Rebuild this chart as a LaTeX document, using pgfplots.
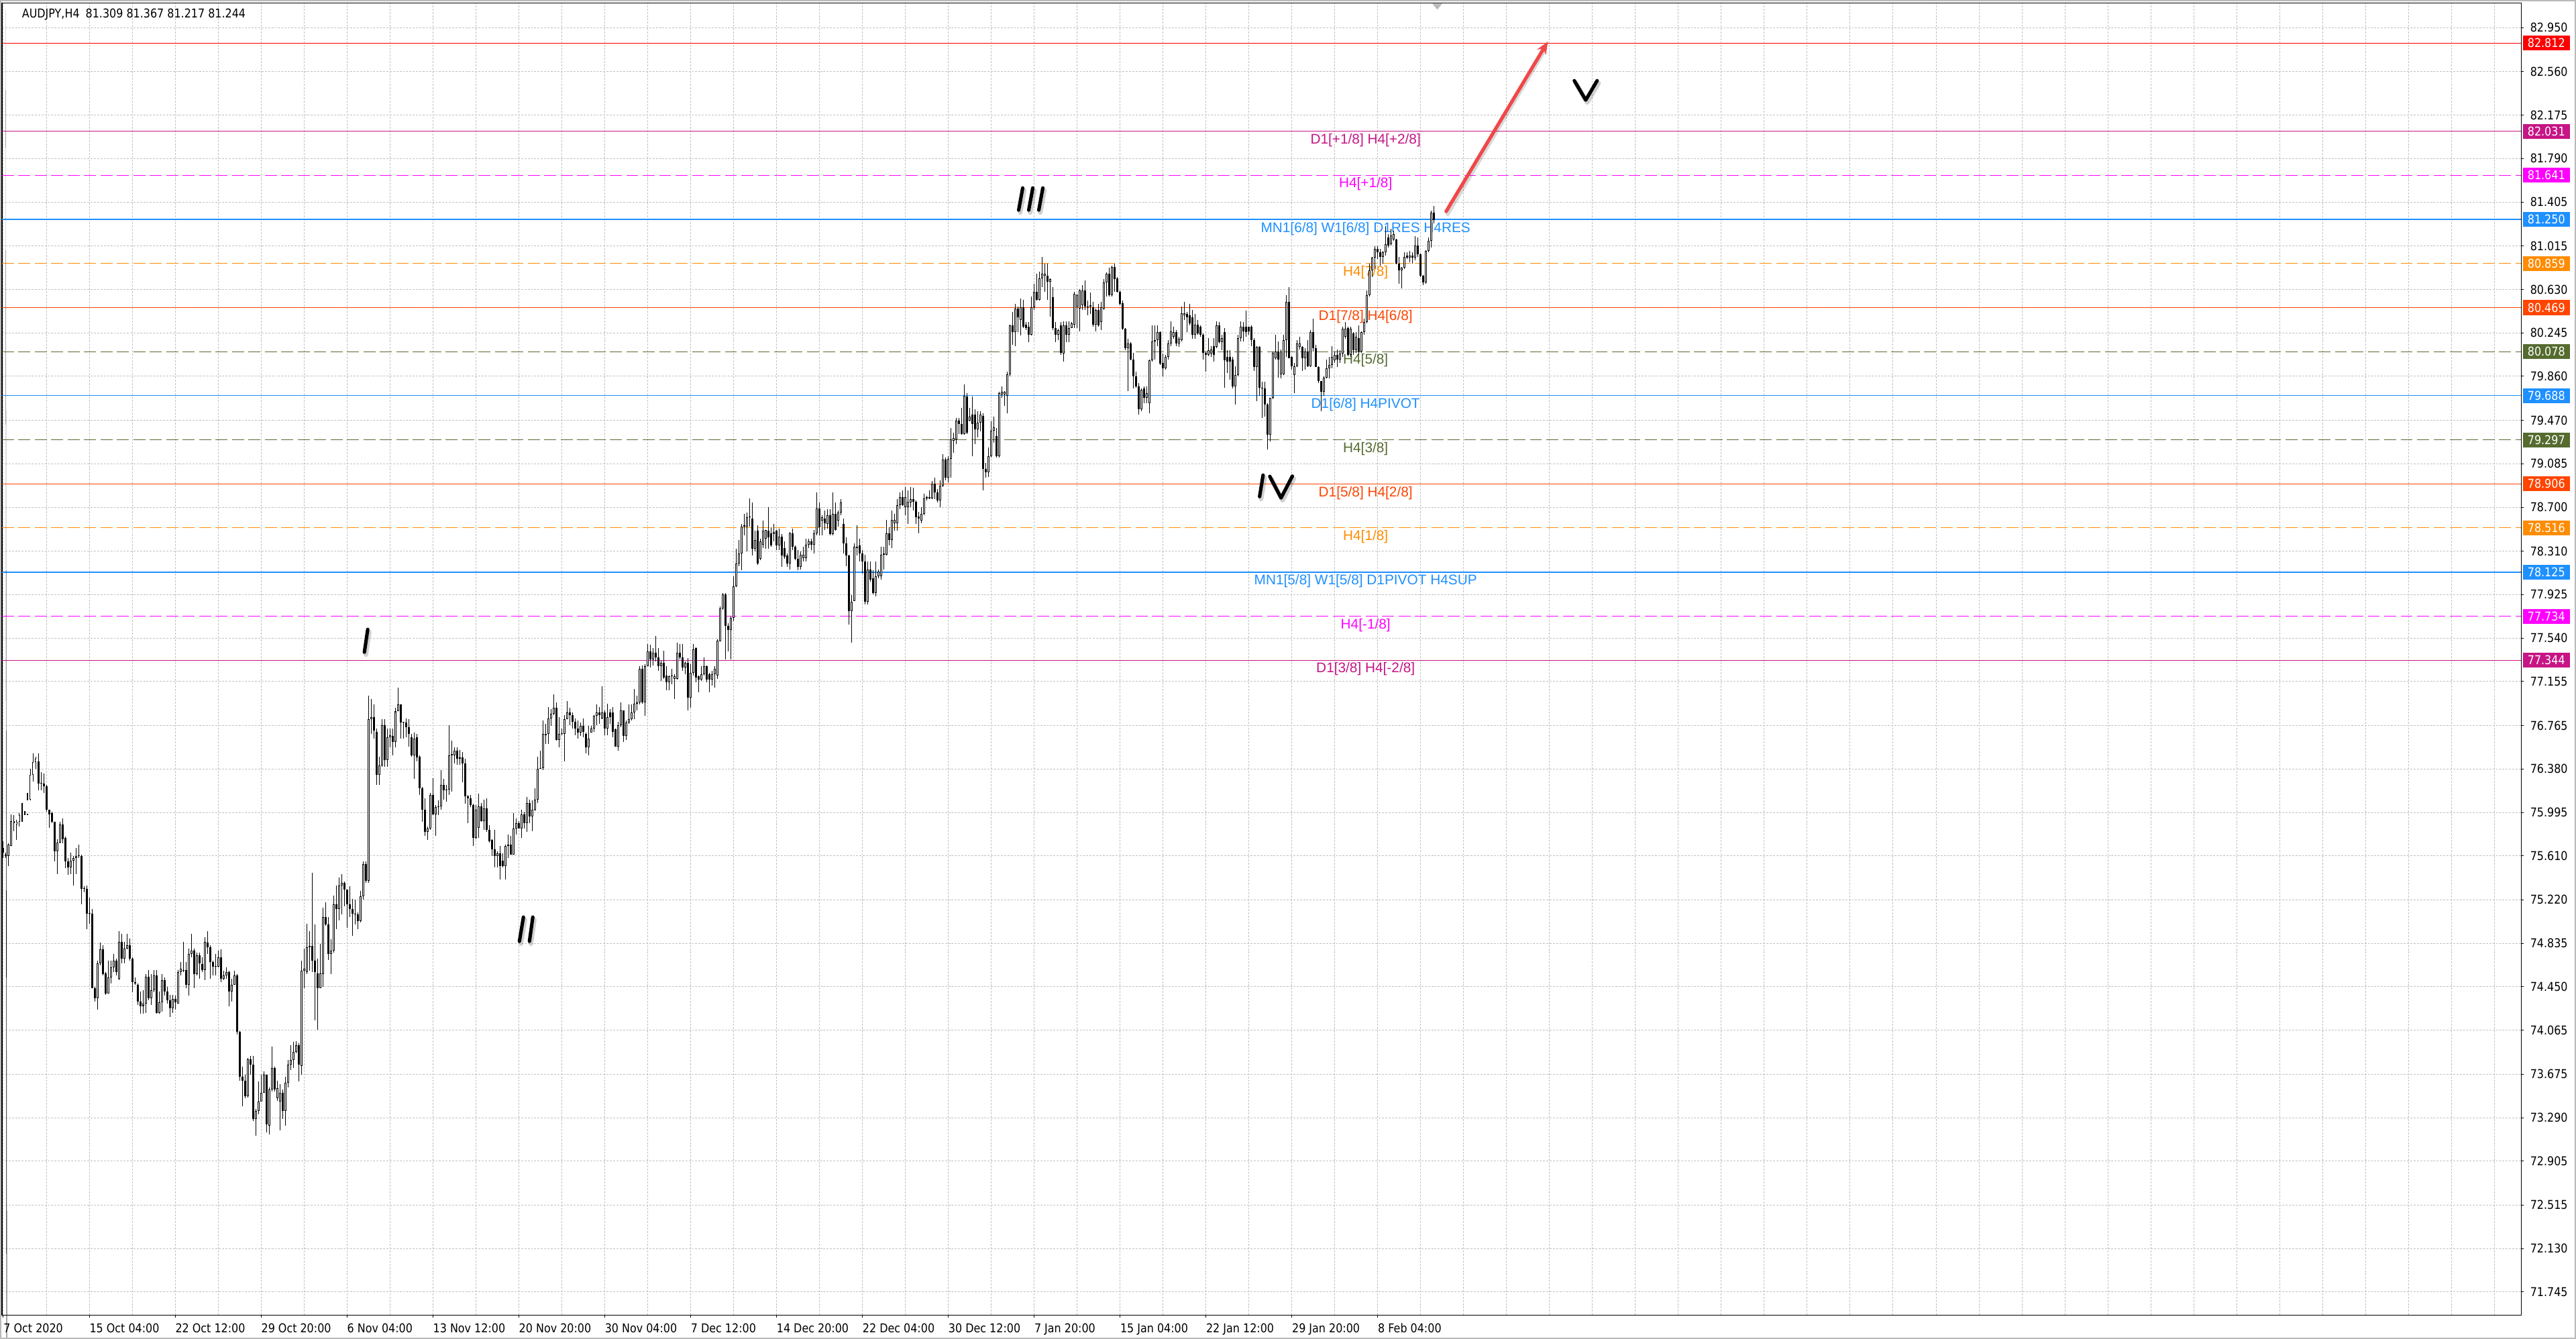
\documentclass[border=0pt]{standalone}
\usepackage{pgfplots}
\pgfplotsset{compat=1.18}
\usepackage{pgfplotstable}
\usepackage{graphicx}
\usepackage{fontspec}
\setmainfont{Liberation Sans}
\newfontfamily\tahomaf[FakeStretch=0.88]{DejaVu Sans}
\newfontfamily\djv{DejaVu Sans}
\newfontfamily\arialf{Liberation Sans}
\usetikzlibrary{arrows.meta}
\definecolor{mvr}{HTML}{C71585}
\definecolor{dodger}{HTML}{1E90FF}
\definecolor{dorange}{HTML}{FF8C00}
\definecolor{ored}{HTML}{FF4500}
\definecolor{dolive}{HTML}{556B2F}
\definecolor{magX}{HTML}{FF00FF}
\definecolor{redX}{HTML}{FF0000}
\definecolor{gridc}{HTML}{C0C0C0}
\definecolor{arrowred}{HTML}{F04848}
\newcommand\tickf{\tahomaf\fontsize{7.4bp}{8bp}\selectfont}
\newcommand\levf{\arialf\fontsize{8.5bp}{9bp}\selectfont}
\tikzset{wave/.style={line width=2.1bp, line cap=round, line join=round, black},
         wsh/.style={line width=2.8bp, line cap=round, line join=round, black, opacity=0.18},
         pbox/.style={anchor=west, text=white, font=\tickf, inner xsep=0pt, inner ysep=0pt, minimum height=9bp, minimum width=28.6bp, xshift=0.8bp}}

\pgfplotstableread{
o h l c
75.68 75.74 75.59 75.64
75.62 75.64 75.59 75.61
75.61 75.72 75.52 75.71
75.70 75.98 75.70 75.92
75.92 75.97 75.83 75.90
75.89 75.93 75.75 75.91
75.91 75.99 75.87 75.97
75.97 76.08 75.91 75.98
75.98 76.01 75.97 75.98
75.98 76.17 75.97 76.11
76.11 76.38 76.10 76.33
76.33 76.52 76.27 76.44
76.44 76.49 76.38 76.47
76.45 76.52 76.19 76.25
76.25 76.35 76.19 76.25
76.25 76.34 76.17 76.23
76.23 76.24 76.00 76.02
76.02 76.02 75.86 75.98
75.99 76.00 75.90 75.91
75.91 75.91 75.56 75.65
75.65 75.76 75.45 75.73
75.73 75.91 75.72 75.89
75.89 75.94 75.72 75.76
75.77 75.78 75.50 75.56
75.56 75.59 75.44 75.51
75.51 75.64 75.45 75.57
75.57 75.61 75.35 75.59
75.59 75.68 75.45 75.61
75.61 75.71 75.59 75.61
75.61 75.62 75.18 75.32
75.32 75.34 75.29 75.32
75.32 75.35 74.96 75.10
75.10 75.24 75.01 75.10
75.10 75.14 74.44 74.44
74.44 74.45 74.32 74.35
74.35 74.68 74.25 74.66
74.66 74.84 74.64 74.78
74.78 74.82 74.55 74.56
74.57 74.58 74.38 74.39
74.39 74.68 74.39 74.53
74.53 74.68 74.48 74.62
74.62 74.74 74.58 74.68
74.68 74.70 74.55 74.58
74.52 74.94 74.51 74.85
74.85 74.92 74.66 74.70
74.70 74.85 74.66 74.79
74.79 74.92 74.78 74.82
74.82 74.88 74.68 74.70
74.70 74.71 74.40 74.49
74.49 74.53 74.47 74.48
74.47 74.48 74.29 74.32
74.32 74.41 74.21 74.28
74.28 74.42 74.21 74.30
74.30 74.56 74.22 74.54
74.54 74.60 74.33 74.35
74.35 74.56 74.29 74.42
74.42 74.60 74.40 74.55
74.55 74.60 74.21 74.22
74.22 74.41 74.21 74.31
74.31 74.56 74.23 74.51
74.51 74.53 74.37 74.41
74.41 74.45 74.30 74.33
74.33 74.38 74.18 74.26
74.26 74.38 74.22 74.34
74.34 74.37 74.25 74.31
74.30 74.60 74.30 74.58
74.58 74.67 74.55 74.61
74.59 74.85 74.58 74.60
74.60 74.67 74.44 74.47
74.47 74.79 74.37 74.74
74.74 74.92 74.71 74.77
74.77 74.79 74.44 74.56
74.56 74.75 74.55 74.73
74.73 74.75 74.52 74.66
74.65 74.71 74.58 74.60
74.60 74.89 74.51 74.85
74.84 74.94 74.74 74.80
74.80 74.82 74.52 74.67
74.67 74.68 74.55 74.63
74.63 74.74 74.55 74.63
74.63 74.77 74.62 74.71
74.71 74.78 74.49 74.52
74.52 74.59 74.51 74.55
74.55 74.62 74.52 74.58
74.58 74.59 74.28 74.41
74.41 74.52 74.32 74.47
74.47 74.59 74.47 74.55
74.55 74.56 74.03 74.05
74.05 74.06 73.62 73.65
73.65 73.74 73.39 73.62
73.62 73.67 73.46 73.48
73.48 73.82 73.47 73.81
73.81 73.84 73.67 73.76
73.76 73.84 73.26 73.28
73.28 73.37 73.13 73.35
73.35 73.61 73.32 73.43
73.43 73.67 73.43 73.51
73.51 73.70 73.51 73.67
73.67 73.67 73.16 73.23
73.22 73.56 73.14 73.54
73.54 73.92 73.52 73.73
73.73 73.74 73.52 73.54
73.46 73.62 73.44 73.55
73.43 73.59 73.18 73.51
73.51 73.54 73.28 73.35
73.35 73.65 73.22 73.60
73.60 73.80 73.56 73.76
73.76 73.93 73.71 73.80
73.80 73.96 73.73 73.87
73.87 73.97 73.86 73.93
73.93 73.95 73.61 73.76
73.75 74.68 73.67 74.59
74.59 74.79 74.44 74.61
74.58 75.01 74.56 74.80
74.80 74.94 74.59 74.81
74.81 75.46 74.58 74.68
74.68 75.00 74.15 74.58
74.57 74.70 74.07 74.44
74.44 74.83 74.44 74.57
74.56 75.15 74.45 75.07
75.07 75.20 74.99 75.00
75.00 75.07 74.69 74.74
74.74 74.87 74.56 74.77
74.77 75.26 74.75 75.18
75.18 75.35 74.96 75.14
75.14 75.42 75.04 75.35
75.35 75.45 75.09 75.37
75.37 75.38 75.16 75.31
75.31 75.31 74.97 75.18
75.18 75.34 75.07 75.14
75.14 75.23 74.90 75.10
75.10 75.22 75.00 75.09
75.09 75.11 74.96 75.03
75.03 75.30 75.02 75.25
75.25 75.56 75.22 75.54
75.54 75.56 75.37 75.39
75.39 77.03 75.37 76.82
76.82 77.00 76.69 76.84
76.84 76.95 76.65 76.72
76.71 76.74 76.24 76.33
76.33 76.49 76.24 76.41
76.41 76.82 76.40 76.77
76.77 76.82 76.40 76.46
76.46 76.74 76.40 76.66
76.66 76.74 76.57 76.68
76.67 76.74 76.50 76.62
76.62 76.92 76.57 76.89
76.89 77.10 76.89 76.95
76.95 76.95 76.65 76.79
76.79 76.80 76.65 76.79
76.79 76.83 76.66 76.75
76.75 76.82 76.58 76.69
76.66 76.69 76.49 76.50
76.50 76.70 76.29 76.65
76.66 76.69 76.45 76.48
76.49 76.50 76.15 76.21
76.21 76.22 75.91 76.02
76.02 76.12 75.79 75.82
75.82 75.87 75.75 75.85
75.85 76.17 75.84 76.15
76.15 76.30 75.97 75.98
75.98 76.06 75.79 76.04
76.04 76.10 75.97 76.05
76.05 76.37 76.02 76.24
76.24 76.29 76.11 76.19
76.19 76.24 76.09 76.20
76.20 76.77 76.15 76.50
76.50 76.63 76.18 76.51
76.50 76.57 76.43 76.54
76.54 76.57 76.42 76.47
76.47 76.55 76.42 76.48
76.48 76.53 76.26 76.43
76.43 76.47 76.07 76.14
76.14 76.15 75.90 76.12
76.12 76.15 76.04 76.06
76.06 76.07 75.70 75.77
75.77 76.06 75.76 76.02
75.86 76.16 75.77 76.05
76.05 76.08 75.91 75.92
75.92 76.11 75.84 76.03
76.03 76.12 75.82 75.84
75.84 75.88 75.73 75.74
75.75 75.76 75.61 75.67
75.67 75.84 75.51 75.61
75.61 75.65 75.51 75.63
75.63 75.70 75.40 75.52
75.57 75.63 75.51 75.52
75.52 75.71 75.40 75.70
75.70 75.80 75.59 75.71
75.71 75.79 75.62 75.62
75.62 75.99 75.62 75.85
75.85 75.94 75.80 75.90
75.90 75.92 75.85 75.85
75.85 76.02 75.77 75.98
75.98 76.00 75.85 75.90
75.90 76.13 75.82 76.08
76.08 76.11 75.90 75.96
75.96 76.10 75.83 76.02
76.02 76.21 76.01 76.11
76.11 76.49 76.08 76.38
76.38 76.54 76.38 76.39
76.39 76.81 76.37 76.69
76.68 76.78 76.60 76.69
76.69 76.93 76.60 76.83
76.83 76.91 76.76 76.87
76.87 77.04 76.86 76.92
76.92 76.97 76.63 76.64
76.64 76.84 76.57 76.69
76.69 76.74 76.68 76.69
76.69 76.86 76.45 76.82
76.82 76.98 76.82 76.88
76.88 76.92 76.77 76.86
76.86 76.88 76.74 76.80
76.80 76.83 76.68 76.74
76.74 76.81 76.65 76.70
76.70 76.79 76.67 76.76
76.76 76.83 76.66 76.71
76.69 76.70 76.52 76.57
76.57 76.76 76.50 76.65
76.70 76.76 76.70 76.74
76.74 76.86 76.71 76.85
76.85 76.95 76.77 76.88
76.88 76.93 76.78 76.86
76.83 77.11 76.82 76.88
76.88 76.90 76.68 76.74
76.74 76.96 76.68 76.84
76.88 76.91 76.78 76.84
76.88 76.93 76.66 76.71
76.73 76.74 76.58 76.58
76.58 76.80 76.54 76.77
76.77 76.97 76.75 76.90
76.90 76.90 76.62 76.67
76.67 76.81 76.64 76.79
76.79 76.95 76.78 76.82
76.82 76.95 76.81 76.88
76.88 77.09 76.82 76.96
76.96 77.03 76.90 76.97
76.97 77.29 76.95 77.27
77.27 77.30 76.96 76.97
76.97 77.31 76.85 77.29
77.29 77.49 77.29 77.42
77.42 77.48 77.28 77.35
77.35 77.45 77.30 77.41
77.41 77.56 77.33 77.37
77.37 77.45 77.25 77.29
77.29 77.34 77.16 77.32
77.32 77.43 77.18 77.19
77.21 77.29 77.08 77.15
77.15 77.21 77.08 77.20
77.20 77.27 77.13 77.21
77.18 77.22 77.00 77.20
77.18 77.50 77.17 77.41
77.41 77.49 77.35 77.37
77.37 77.49 77.25 77.28
77.28 77.33 77.22 77.32
77.32 77.36 76.90 77.01
77.01 77.31 76.92 77.23
77.23 77.49 77.21 77.44
77.45 77.46 77.15 77.19
77.20 77.21 77.06 77.17
77.17 77.29 77.16 77.22
77.22 77.37 77.21 77.29
77.29 77.30 77.15 77.17
77.22 77.23 77.06 77.17
77.17 77.25 77.12 77.22
77.22 77.29 77.10 77.27
77.21 77.53 77.18 77.52
77.51 77.82 77.51 77.80
77.80 77.94 77.79 77.93
77.93 77.94 77.35 77.65
77.65 77.67 77.42 77.61
77.61 77.73 77.35 77.72
77.72 78.09 77.69 78.00
78.00 78.33 77.99 78.20
78.20 78.41 78.18 78.29
78.29 78.55 78.14 78.53
78.53 78.64 78.45 78.54
78.53 78.65 78.31 78.61
78.61 78.78 78.53 78.62
78.60 78.74 78.27 78.33
78.33 78.49 78.31 78.41
78.49 78.54 78.19 78.20
78.24 78.42 78.23 78.40
78.37 78.58 78.34 78.49
78.42 78.50 78.33 78.50
78.49 78.70 78.33 78.43
78.47 78.52 78.35 78.36
78.46 78.55 78.40 78.48
78.49 78.50 78.32 78.36
78.36 78.51 78.32 78.44
78.44 78.46 78.17 78.27
78.34 78.40 78.24 78.26
78.27 78.29 78.17 78.20
78.20 78.48 78.15 78.47
78.47 78.51 78.32 78.35
78.35 78.36 78.23 78.24
78.24 78.32 78.14 78.17
78.17 78.31 78.15 78.28
78.25 78.35 78.22 78.28
78.25 78.42 78.22 78.37
78.37 78.42 78.34 78.40
78.40 78.42 78.32 78.37
78.37 78.50 78.29 78.47
78.47 78.83 78.45 78.69
78.69 78.74 78.45 78.52
78.58 78.63 78.45 78.61
78.60 78.67 78.50 78.56
78.55 78.68 78.51 78.63
78.63 78.68 78.45 78.46
78.46 78.83 78.45 78.64
78.64 78.74 78.49 78.50
78.58 78.67 78.53 78.65
78.65 78.77 78.63 78.74
78.55 78.60 78.29 78.38
78.38 78.43 78.18 78.27
78.27 78.28 77.66 77.78
77.78 77.92 77.50 77.86
77.87 78.38 77.87 78.35
78.34 78.54 78.27 78.35
78.36 78.42 78.22 78.29
78.29 78.32 78.11 78.22
78.22 78.28 77.84 77.86
77.86 78.22 77.84 78.15
78.15 78.22 78.04 78.06
78.07 78.14 77.93 77.94
77.94 78.22 77.91 78.09
78.09 78.15 78.07 78.13
78.09 78.35 78.06 78.28
78.28 78.35 78.15 78.29
78.28 78.59 78.27 78.47
78.47 78.52 78.36 78.41
78.41 78.67 78.34 78.59
78.56 78.64 78.49 78.59
78.56 78.77 78.49 78.72
78.72 78.83 78.68 78.79
78.79 78.85 78.71 78.72
78.70 78.88 78.63 78.79
78.70 78.85 78.55 78.75
78.74 78.88 78.70 78.77
78.77 78.87 78.67 78.75
78.75 78.76 78.55 78.61
78.62 78.66 78.47 78.60
78.58 78.70 78.56 78.64
78.64 78.82 78.63 78.78
78.78 78.80 78.76 78.79
78.78 78.85 78.77 78.79
78.78 78.93 78.77 78.91
78.91 78.96 78.77 78.83
78.83 78.86 78.74 78.76
78.76 78.94 78.70 78.89
78.89 79.17 78.88 79.12
79.12 79.14 78.94 78.96
78.96 79.15 78.92 79.13
79.13 79.40 78.96 79.30
79.29 79.36 79.18 79.31
79.30 79.49 79.26 79.47
79.47 79.49 79.35 79.44
79.44 79.58 79.34 79.35
79.35 79.79 79.34 79.69
79.68 79.71 79.35 79.36
79.47 79.58 79.46 79.50
79.52 79.68 79.15 79.44
79.52 79.57 79.26 79.39
79.39 79.55 79.32 79.45
79.45 79.55 79.37 79.52
79.51 79.53 78.85 79.04
79.04 79.09 78.96 79.01
79.01 79.23 78.97 79.15
79.15 79.46 79.14 79.38
79.38 79.50 79.27 79.41
79.33 79.40 79.14 79.15
79.15 79.72 79.14 79.71
79.70 79.77 79.67 79.72
79.70 79.73 79.60 79.72
79.69 79.90 79.53 79.88
79.88 80.32 79.86 80.31
80.31 80.43 80.14 80.25
80.25 80.50 80.13 80.46
80.46 80.48 80.25 80.38
80.36 80.55 80.22 80.47
80.47 80.54 80.29 80.30
80.32 80.34 80.27 80.29
80.30 80.34 80.16 80.23
80.23 80.57 80.22 80.47
80.47 80.68 80.45 80.61
80.61 80.77 80.53 80.54
80.54 80.79 80.53 80.73
80.73 80.92 80.65 80.77
80.75 80.86 80.61 80.77
80.75 80.86 80.54 80.70
80.70 80.73 80.39 80.72
80.56 80.65 80.27 80.29
80.29 80.34 80.16 80.23
80.23 80.28 80.18 80.27
80.31 80.34 80.05 80.07
80.06 80.35 79.99 80.31
80.31 80.35 80.16 80.23
80.23 80.35 80.16 80.29
80.29 80.34 80.29 80.33
80.32 80.61 80.29 80.59
80.48 80.59 80.29 80.58
80.46 80.63 80.26 80.62
80.49 80.67 80.45 80.62
80.62 80.71 80.45 80.48
80.48 80.53 80.40 80.47
80.49 80.60 80.41 80.48
80.47 80.52 80.30 80.32
80.32 80.46 80.26 80.45
80.45 80.50 80.30 80.31
80.34 80.52 80.27 80.47
80.46 80.72 80.45 80.69
80.69 80.78 80.57 80.77
80.77 80.82 80.57 80.58
80.58 80.84 80.57 80.83
80.83 80.86 80.61 80.72
80.73 80.74 80.60 80.61
80.61 80.62 80.49 80.50
80.51 80.53 80.27 80.28
80.28 80.29 80.09 80.11
80.11 80.19 79.73 80.15
80.15 80.16 80.00 80.01
80.01 80.07 79.75 79.86
79.86 79.90 79.76 79.77
79.77 79.80 79.52 79.57
79.57 79.75 79.55 79.74
79.75 79.77 79.62 79.67
79.67 79.77 79.62 79.71
79.62 80.01 79.53 80.00
80.00 80.31 79.99 80.17
80.17 80.31 80.01 80.18
80.18 80.31 80.13 80.25
80.25 80.26 79.96 79.97
79.98 80.06 79.86 79.93
79.93 80.05 79.92 80.03
80.03 80.18 80.01 80.15
80.15 80.35 80.13 80.26
80.21 80.30 80.19 80.25
80.25 80.27 80.13 80.15
80.15 80.21 80.12 80.19
80.18 80.48 80.17 80.42
80.40 80.52 80.36 80.42
80.41 80.43 80.25 80.38
80.40 80.50 80.31 80.33
80.38 80.45 80.19 80.23
80.23 80.41 80.19 80.32
80.32 80.36 80.23 80.24
80.30 80.31 80.21 80.23
80.23 80.24 80.01 80.07
80.07 80.08 79.90 80.05
80.05 80.20 80.04 80.09
80.06 80.13 80.03 80.10
80.13 80.20 79.99 80.05
80.12 80.35 80.11 80.31
80.31 80.34 80.15 80.16
80.16 80.23 80.09 80.20
80.25 80.29 79.76 80.00
80.03 80.09 79.89 79.99
80.03 80.09 79.83 79.99
80.01 80.03 79.75 79.77
79.77 79.95 79.61 79.87
79.87 80.23 79.86 80.20
80.20 80.35 80.17 80.30
80.30 80.34 80.17 80.26
80.30 80.44 80.21 80.25
80.30 80.30 80.23 80.26
80.30 80.31 80.13 80.18
80.18 80.20 79.91 79.94
79.94 80.13 79.64 80.12
80.12 80.13 79.69 79.76
79.76 79.81 79.49 79.75
79.75 79.81 79.50 79.61
79.61 79.62 79.21 79.34
79.34 79.67 79.28 79.67
79.67 80.08 79.66 80.07
80.02 80.23 80.01 80.08
80.08 80.17 79.85 80.01
79.88 80.10 79.84 80.08
79.88 80.23 79.87 80.18
80.18 80.58 80.03 80.52
80.52 80.65 80.02 80.02
80.03 80.04 79.92 79.95
79.87 79.98 79.71 79.95
79.95 80.18 79.94 80.15
80.12 80.21 80.10 80.15
80.12 80.13 79.91 80.02
80.02 80.11 79.92 80.08
80.08 80.18 79.94 79.95
79.95 80.27 79.94 80.25
80.25 80.37 80.08 80.11
80.11 80.14 79.94 79.94
79.94 79.95 79.80 79.82
79.82 79.82 79.55 79.72
79.72 79.86 79.69 79.85
79.85 80.01 79.84 79.93
79.93 80.03 79.84 79.96
79.96 80.13 79.93 80.03
80.00 80.08 79.98 80.05
80.05 80.10 79.94 80.01
80.01 80.09 79.98 80.06
80.06 80.30 80.03 80.28
80.21 80.34 80.19 80.28
80.29 80.30 80.04 80.05
80.05 80.30 80.03 80.28
80.24 80.25 80.05 80.09
80.09 80.25 80.07 80.21
80.20 80.31 80.05 80.08
80.08 80.26 80.07 80.25
80.25 80.37 80.23 80.34
80.34 80.62 80.33 80.58
80.58 80.86 80.57 80.80
80.80 80.92 80.74 80.91
80.91 81.01 80.81 80.99
80.99 81.01 80.90 80.96
80.96 80.99 80.84 80.92
80.92 80.97 80.86 80.96
80.96 81.19 80.93 81.03
81.09 81.12 81.00 81.02
81.03 81.17 81.02 81.11
81.07 81.15 81.06 81.12
81.07 81.08 80.85 80.86
80.86 80.92 80.68 80.80
80.80 80.83 80.64 80.82
80.82 80.96 80.81 80.92
80.93 80.96 80.90 80.91
80.91 80.97 80.87 80.93
80.93 80.96 80.86 80.91
80.91 81.10 80.89 81.02
81.02 81.09 80.92 80.94
80.94 80.95 80.74 80.75
80.75 80.76 80.67 80.69
80.69 80.98 80.68 80.97
80.97 81.09 80.96 81.06
81.06 81.33 81.00 81.31
81.309 81.367 81.217 81.244
}\candles

\begin{document}
\begin{tikzpicture}
\useasboundingbox (-1.22bp,-14.7bp) rectangle (1566.78bp,800.3bp);
\fill[white] (-1.22bp,-14.7bp) rectangle (1566.78bp,800.3bp);
\begin{axis}[
  at={(0,0)}, anchor=south west,
  scale only axis, width=1533.4bp, height=798.7bp,
  xmin=-0.5, xmax=938, ymin=71.541, ymax=83.17,
  clip=false,
  axis line style={black, line width=0.5bp},
  tick align=outside,
  major tick length=1.6bp,
  minor tick length=0pt,
  tick style={black, line width=0.41bp},
  xtick pos=left, ytick pos=right, yticklabel pos=right,
  xtick={0,32,...,512},
  xticklabels={7 Oct 2020, 15 Oct 04:00, 22 Oct 12:00, 29 Oct 20:00, 6 Nov 04:00, 13 Nov 12:00, 20 Nov 20:00, 30 Nov 04:00, 7 Dec 12:00, 14 Dec 20:00, 22 Dec 04:00, 30 Dec 12:00, 7 Jan 20:00, 15 Jan 04:00, 22 Jan 12:00, 29 Jan 20:00, 8 Feb 04:00},
  minor xtick={0,16,...,928},
  xminorgrids=true, xmajorgrids=false, ymajorgrids=true,
  minor grid style={gridc, dash pattern=on 1.2bp off 0.8bp, line width=0.41bp},
  major grid style={gridc, dash pattern=on 1.2bp off 0.8bp, line width=0.41bp},
  ytick={71.745,72.130,72.515,72.905,73.290,73.675,74.065,74.450,74.835,75.220,75.610,75.995,76.380,76.765,77.155,77.540,77.925,78.310,78.700,79.085,79.470,79.860,80.245,80.630,81.015,81.405,81.790,82.175,82.560,82.950},
  yticklabels={71.745,72.130,72.515,72.905,73.290,73.675,74.065,74.450,74.835,75.220,75.610,75.995,76.380,76.765,77.155,77.540,77.925,78.310,78.700,79.085,79.470,79.860,80.245,80.630,81.015,81.405,81.790,82.175,82.560,82.950},
  xticklabel style={font=\tickf, anchor=base west, inner sep=0pt, yshift=-9bp},
  yticklabel style={font=\tickf, anchor=west, inner sep=0pt, xshift=3.7bp},
]
% level lines
\addplot[redX, line width=0.41bp] coordinates {(-0.5,82.812) (938,82.812)};
\addplot[mvr, line width=0.41bp] coordinates {(-0.5,82.031) (938,82.031)};
\addplot[magX, line width=0.41bp, dash pattern=on 7.3bp off 2.7bp] coordinates {(-0.5,81.641) (938,81.641)};
\addplot[dodger, line width=0.85bp] coordinates {(-0.5,81.250) (938,81.250)};
\addplot[dorange, line width=0.41bp, dash pattern=on 7.3bp off 2.7bp] coordinates {(-0.5,80.859) (938,80.859)};
\addplot[ored, line width=0.41bp] coordinates {(-0.5,80.469) (938,80.469)};
\addplot[dolive, line width=0.41bp, dash pattern=on 7.3bp off 2.7bp] coordinates {(-0.5,80.078) (938,80.078)};
\addplot[dodger, line width=0.5bp] coordinates {(-0.5,79.688) (938,79.688)};
\addplot[dolive, line width=0.41bp, dash pattern=on 7.3bp off 2.7bp] coordinates {(-0.5,79.297) (938,79.297)};
\addplot[ored, line width=0.41bp] coordinates {(-0.5,78.906) (938,78.906)};
\addplot[dorange, line width=0.41bp, dash pattern=on 7.3bp off 2.7bp] coordinates {(-0.5,78.516) (938,78.516)};
\addplot[dodger, line width=0.85bp] coordinates {(-0.5,78.125) (938,78.125)};
\addplot[magX, line width=0.41bp, dash pattern=on 7.3bp off 2.7bp] coordinates {(-0.5,77.734) (938,77.734)};
\addplot[mvr, line width=0.41bp] coordinates {(-0.5,77.344) (938,77.344)};
% level texts
\node[font=\levf, text=mvr, anchor=base, yshift=-7.6bp] at (axis cs:507.5,82.031) {D1[+1/8] H4[+2/8]};
\node[font=\levf, text=magX, anchor=base, yshift=-7.6bp] at (axis cs:507.5,81.641) {H4[+1/8]};
\node[font=\levf, text=dodger, anchor=base, yshift=-7.8bp] at (axis cs:507.5,81.250) {MN1[6/8] W1[6/8] D1RES H4RES};
\node[font=\levf, text=dorange, anchor=base, yshift=-7.6bp] at (axis cs:507.5,80.859) {H4[7/8]};
\node[font=\levf, text=ored, anchor=base, yshift=-7.6bp] at (axis cs:507.5,80.469) {D1[7/8] H4[6/8]};
\node[font=\levf, text=dolive, anchor=base, yshift=-7.6bp] at (axis cs:507.5,80.078) {H4[5/8]};
\node[font=\levf, text=dodger, anchor=base, yshift=-7.6bp] at (axis cs:507.5,79.688) {D1[6/8] H4PIVOT};
\node[font=\levf, text=dolive, anchor=base, yshift=-7.6bp] at (axis cs:507.5,79.297) {H4[3/8]};
\node[font=\levf, text=ored, anchor=base, yshift=-7.6bp] at (axis cs:507.5,78.906) {D1[5/8] H4[2/8]};
\node[font=\levf, text=dorange, anchor=base, yshift=-7.6bp] at (axis cs:507.5,78.516) {H4[1/8]};
\node[font=\levf, text=dodger, anchor=base, yshift=-7.8bp] at (axis cs:507.5,78.125) {MN1[5/8] W1[5/8] D1PIVOT H4SUP};
\node[font=\levf, text=magX, anchor=base, yshift=-7.6bp] at (axis cs:507.5,77.734) {H4[-1/8]};
\node[font=\levf, text=mvr, anchor=base, yshift=-7.6bp] at (axis cs:507.5,77.344) {D1[3/8] H4[-2/8]};
% candles: wicks, bodies, hollow insides of rising bars
\addplot[black, line width=0.41bp, quiver={u=0, v={\thisrow{h}-\thisrow{l}}}] table[x expr=\coordindex, y=l] {\candles};
\addplot[black, line width=1.22bp, quiver={u=0, v={max(abs(\thisrow{c}-\thisrow{o}),0.006)}}] table[x expr=\coordindex, y expr={min(\thisrow{o},\thisrow{c})}] {\candles};
\addplot[white, line width=0.41bp, quiver={u=0, v={max(\thisrow{c}-\thisrow{o}-0.012,0)}}] table[x expr=\coordindex, y expr={\thisrow{o}+0.006}] {\candles};
% price boxes on the scale
\draw[black, line width=1.2bp] (axis cs:938,81.30) ++(0.8bp,0) -- ++(28.6bp,0);
\node[pbox, fill=redX] at (axis cs:938,82.812) {82.812};
\node[pbox, fill=mvr] at (axis cs:938,82.031) {82.031};
\node[pbox, fill=magX] at (axis cs:938,81.641) {81.641};
\node[pbox, fill=dodger] at (axis cs:938,81.250) {81.250};
\node[pbox, fill=dorange] at (axis cs:938,80.859) {80.859};
\node[pbox, fill=ored] at (axis cs:938,80.469) {80.469};
\node[pbox, fill=dolive] at (axis cs:938,80.078) {80.078};
\node[pbox, fill=dodger] at (axis cs:938,79.688) {79.688};
\node[pbox, fill=dolive] at (axis cs:938,79.297) {79.297};
\node[pbox, fill=ored] at (axis cs:938,78.906) {78.906};
\node[pbox, fill=dorange] at (axis cs:938,78.516) {78.516};
\node[pbox, fill=dodger] at (axis cs:938,78.125) {78.125};
\node[pbox, fill=magX] at (axis cs:938,77.734) {77.734};
\node[pbox, fill=mvr] at (axis cs:938,77.344) {77.344};
% wave labels (shadows)
\begin{scope}[xshift=0.9bp, yshift=-1.5bp]
\draw[wsh] (axis cs:135.75,77.617) -- (axis cs:134.5,77.415);
\draw[wsh] (axis cs:193.75,75.067) -- (axis cs:192.25,74.853);
\draw[wsh] (axis cs:197.25,75.067) -- (axis cs:196,74.853);
\draw[wsh] (axis cs:379.75,81.529) -- (axis cs:378.25,81.333);
\draw[wsh] (axis cs:383.5,81.529) -- (axis cs:382,81.333);
\draw[wsh] (axis cs:387.25,81.529) -- (axis cs:385.75,81.333);
\draw[wsh] (axis cs:469.3,78.984) -- (axis cs:468,78.794);
\draw[wsh] (axis cs:471.8,78.973) -- (axis cs:476,78.782) -- (axis cs:480.2,78.975);
\draw[wsh] (axis cs:585.25,82.48) -- (axis cs:589.5,82.308) -- (axis cs:593.75,82.48);
\draw[line width=2.6bp, black, opacity=0.15, line cap=round] (axis cs:537.5,81.321) -- (axis cs:573.5,82.77);
\end{scope}
\draw[wave] (axis cs:135.75,77.617) -- (axis cs:134.5,77.415);
\draw[wave] (axis cs:193.75,75.067) -- (axis cs:192.25,74.853);
\draw[wave] (axis cs:197.25,75.067) -- (axis cs:196,74.853);
\draw[wave] (axis cs:379.75,81.529) -- (axis cs:378.25,81.333);
\draw[wave] (axis cs:383.5,81.529) -- (axis cs:382,81.333);
\draw[wave] (axis cs:387.25,81.529) -- (axis cs:385.75,81.333);
\draw[wave] (axis cs:469.3,78.984) -- (axis cs:468,78.794);
\draw[wave] (axis cs:471.8,78.973) -- (axis cs:476,78.782) -- (axis cs:480.2,78.975);
\draw[wave] (axis cs:585.25,82.48) -- (axis cs:589.5,82.308) -- (axis cs:593.75,82.48);
% forecast arrow
\draw[arrowred, line width=2.1bp, line cap=round, -{Stealth[length=7.5bp, width=6.2bp]}] (axis cs:537.5,81.321) -- (axis cs:575.4,82.827);
% chart shift marker
\node[inner sep=0pt, anchor=north, text=gray!55, font=\djv\fontsize{8bp}{8bp}\selectfont] at (axis cs:534.2,83.16) {\scalebox{1}[0.6]{▼}};
% header
\fill (rel axis cs:0,1) ++(2.2bp,-4.5bp) -- ++(4.33bp,0) -- ++(-2.165bp,-2.9bp) -- cycle;
\node[anchor=base west, inner sep=0pt, font=\tickf] at ([shift={(12bp,-9bp)}]rel axis cs:0,1) {AUDJPY,H4\enspace 81.309 81.367 81.217 81.244};
\end{axis}
\draw[gray!55, line width=0.8bp] (-0.82bp,-14.3bp) rectangle (1566.38bp,799.9bp);
\end{tikzpicture}
\end{document}
